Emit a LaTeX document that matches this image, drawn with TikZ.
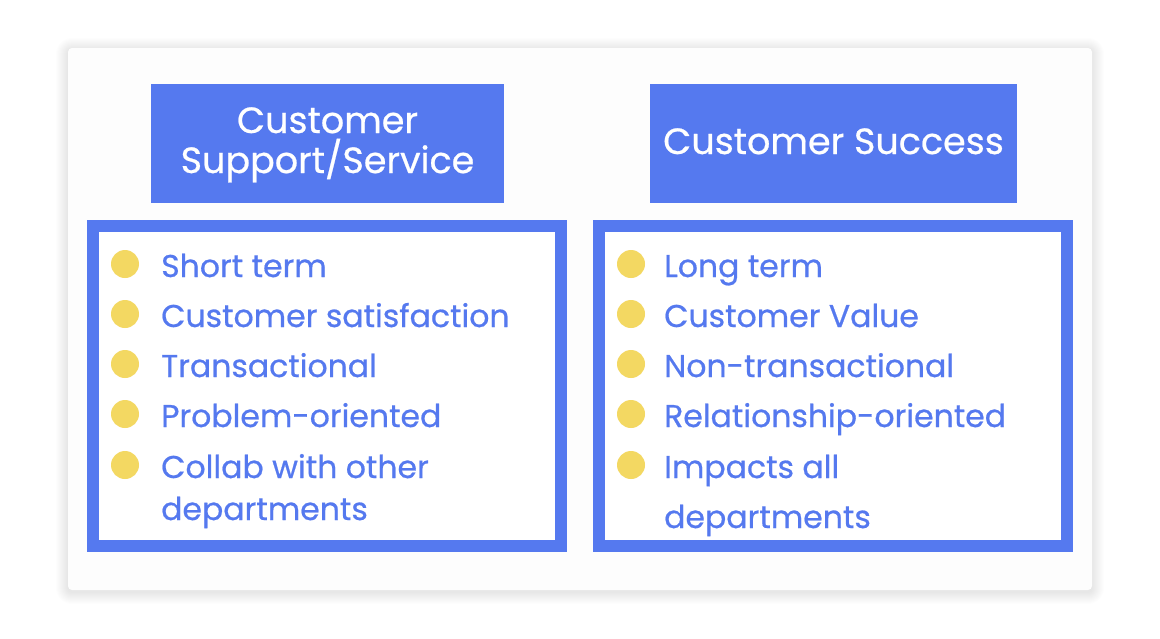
\documentclass[tikz,border=0pt]{standalone}
\usepackage{fontspec}
\setmainfont{Poppins}
\newfontfamily\medfont{Poppins}[FakeBold=0.6]
\definecolor{cblue}{HTML}{5579EF}
\definecolor{cyel}{HTML}{F3D862}
\begin{document}
\begin{tikzpicture}[x=1pt,y=-1pt,
  hdrbox/.style={fill=cblue, draw=none, inner sep=0pt},
  hdrtext/.style={text=white, font=\medfont\fontsize{36.5}{40}\selectfont, anchor=base, inner sep=0pt},
  itemtext/.style={text=cblue, font=\medfont\fontsize{31.5}{34}\selectfont, anchor=base west, inner sep=0pt},
  dot/.style={circle, fill=cyel, draw=none, minimum size=28pt, inner sep=0pt},
  frame/.style={draw=cblue, line width=12pt}]
\useasboundingbox (0,0) rectangle (1160,638);
\fill[white] (0,0) rectangle (1160,638);
% card shadow
\foreach \i in {1,...,12}
  \fill[black, opacity=0.006, rounded corners=4+\i] (68-\i,48-\i+2) rectangle (1092+\i,590+\i+2);
\fill[white!99.2!black, rounded corners=4] (68,48) rectangle (1092,590);
% headers
\node[hdrbox, minimum width=353pt, minimum height=119pt] (hl) at (327.5,143.5) {};
\node[hdrbox, minimum width=367pt, minimum height=119pt] (hr) at (833.5,143.5) {};
\node[hdrtext] (hl1) at (327.5,133) {Customer};
\node[hdrtext] (hl2) at (327.5,173) {Support/Service};
\node[hdrtext] (hr1) at (833.5,154) {Customer Success};
% frames
\fill[white] (93,226) rectangle (561,546);
\fill[white] (599,226) rectangle (1067,546);
\draw[frame] (93,226) rectangle (561,546);
\draw[frame] (599,226) rectangle (1067,546);
% left list
\node[dot] (dl1) at (125,264) {};
\node[dot] (dl2) at (125,314) {};
\node[dot] (dl3) at (125,364) {};
\node[dot] (dl4) at (125,414) {};
\node[dot] (dl5) at (125,465) {};
\node[itemtext] (tl1) at (161,277) {Short term};
\node[itemtext] (tl2) at (161,327) {Customer satisfaction};
\node[itemtext] (tl3) at (161,377) {Transactional};
\node[itemtext] (tl4) at (161,427) {Problem-oriented};
\node[itemtext] (tl5) at (161,478) {Collab with other};
\node[itemtext] (tl6) at (161,520) {departments};
% right list
\node[dot] (dr1) at (631,264) {};
\node[dot] (dr2) at (631,314) {};
\node[dot] (dr3) at (631,364) {};
\node[dot] (dr4) at (631,414) {};
\node[dot] (dr5) at (631,465) {};
\node[itemtext] (tr1) at (664,277) {Long term};
\node[itemtext] (tr2) at (664,327) {Customer Value};
\node[itemtext] (tr3) at (664,377) {Non-transactional};
\node[itemtext] (tr4) at (664,427) {Relationship-oriented};
\node[itemtext] (tr5) at (664,478) {Impacts all};
\node[itemtext] (tr6) at (664,528) {departments};
\end{tikzpicture}
\end{document}
